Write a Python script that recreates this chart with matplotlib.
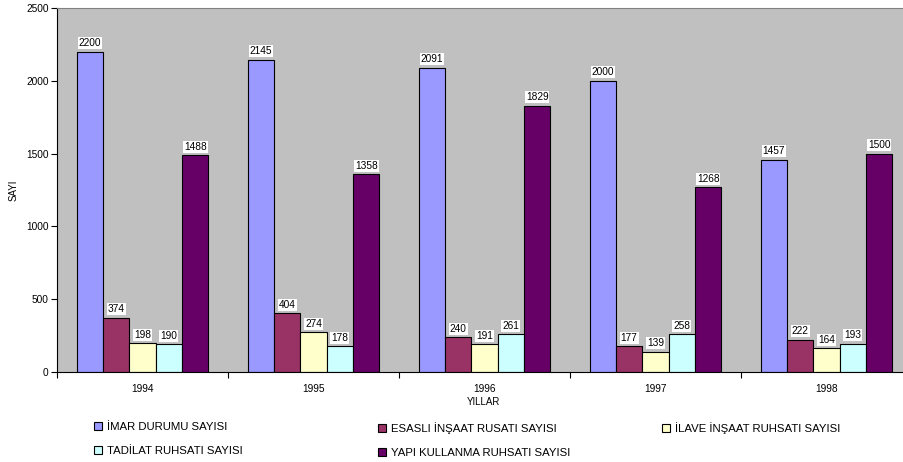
import numpy as np
import matplotlib.pyplot as plt
from matplotlib.patches import Patch

plt.rcParams['font.family'] = ['Liberation Sans', 'DejaVu Sans']

years = ['1994', '1995', '1996', '1997', '1998']
series_names = ['İMAR DURUMU SAYISI', 'ESASLI İNŞAAT RUSATI SAYISI', 'İLAVE İNŞAAT RUHSATI SAYISI',
                'TADİLAT RUHSATI SAYISI', 'YAPI KULLANMA RUHSATI SAYISI']
imar = [2200, 2145, 2091, 2000, 1457]
esasli = [374, 404, 240, 177, 222]
ilave = [198, 274, 191, 139, 164]
tadilat = [190, 178, 261, 258, 193]
yapi = [1488, 1358, 1829, 1268, 1500]
colors = ['#9999FF', '#993366', '#FFFFCC', '#CCFFFF', '#660066']

values = [imar, esasli, ilave, tadilat, yapi]

fig = plt.figure(figsize=(9.04, 4.62), dpi=100)
# plot area runs a little past the right edge, like the original
ax = fig.add_axes([57 / 904, 1 - 372 / 462, 855 / 904, 364 / 462])
ax.set_facecolor('#C0C0C0')

x = np.arange(len(years))
w = 0.154
for i, (vals, col) in enumerate(zip(values, colors)):
    pos = x + (i - 2) * w
    bars = ax.bar(pos, vals, width=w, color=col, edgecolor='black', linewidth=0.8)
    for b, v in zip(bars, vals):
        ax.annotate(str(v), (b.get_x() + b.get_width() / 2, v), xytext=(0, 2.5),
                    textcoords='offset points', ha='center', va='bottom', fontsize=7.3,
                    bbox=dict(boxstyle='square,pad=0.1', fc='white', ec='none'))

ax.set_xlim(-0.5, 4.5)
ax.set_ylim(0, 2500)
ax.set_yticks([0, 500, 1000, 1500, 2000, 2500])
ax.set_xticks(x)
ax.set_xticklabels(years)
ax.set_xticks(np.arange(-0.5, 5, 1), minor=True)
ax.tick_params(axis='x', which='major', length=0, labelsize=7.3, pad=9)
ax.tick_params(axis='x', which='minor', length=4, width=0.8)
ax.tick_params(axis='y', length=4, width=0.8, labelsize=7.3, pad=2)

ax.spines['top'].set_color('#808080')
ax.spines['right'].set_visible(False)
ax.spines['left'].set_linewidth(0.8)
ax.spines['bottom'].set_linewidth(0.8)

fig.text(14 / 904, 1 - 190 / 462, 'SAYI', rotation=90, ha='center', va='center', fontsize=7)
fig.text(484 / 904, 1 - 402 / 462, 'YILLAR', ha='center', va='center', fontsize=7)

# legend columns placed like the original
cols = [[0, 3], [1, 4], [2]]
col_x = [94, 378, 662]
for idx, cx in zip(cols, col_x):
    handles = [Patch(facecolor=colors[j], edgecolor='black', linewidth=0.8, label=series_names[j])
               for j in idx]
    fig.legend(handles=handles, loc='upper left', bbox_to_anchor=(cx / 904, 1 - 422 / 462),
               frameon=False, fontsize=8.2, handlelength=0.7, handleheight=0.7,
               handletextpad=0.4, labelspacing=1.2, borderaxespad=0, borderpad=0)

fig.savefig('out.png', dpi=100)
